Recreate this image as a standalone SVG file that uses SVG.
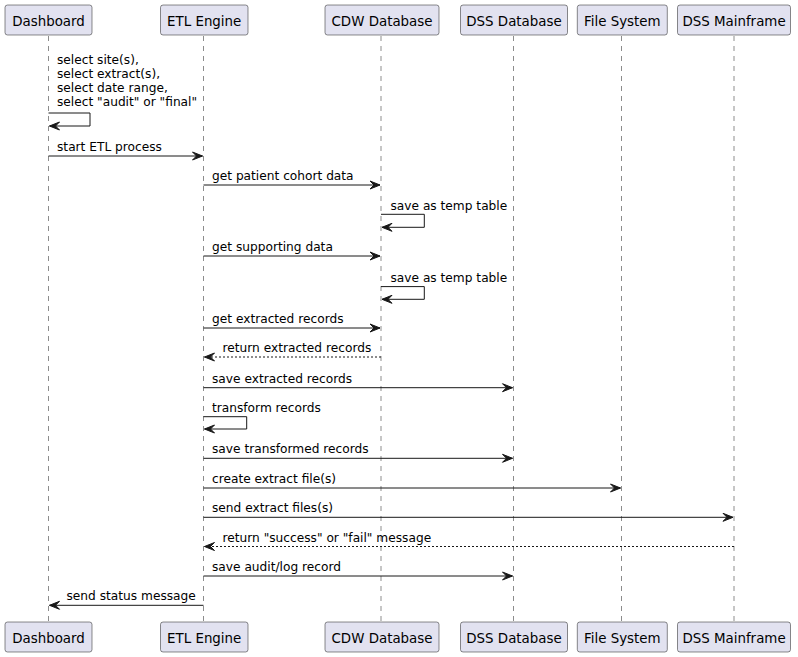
<svg xmlns="http://www.w3.org/2000/svg" width="798" height="657" viewBox="0 0 798 657">
<style>
.bg{fill:#FFFFFF}
.box{fill:#E2E2F0;stroke:#181818;stroke-width:0.5}
.title{font-family:"DejaVu Sans",Verdana,sans-serif;font-size:13.4px;fill:#000000;text-anchor:middle}
.life{stroke:#181818;stroke-width:0.5;stroke-dasharray:5,5;fill:none}
.msg{stroke:#181818;stroke-width:1;fill:none}
.dash{stroke-dasharray:2,2}
.lbl{font-family:"DejaVu Sans",Verdana,sans-serif;font-size:12.2px;fill:#000000}
.ah{fill:#181818;stroke:#181818;stroke-width:1}
</style>
<rect class="bg" x="0" y="0" width="798" height="657"/>
<g id="lifelines">
<line class="life" x1="48.5" y1="36" x2="48.5" y2="622"/>
<line class="life" x1="203.5" y1="36" x2="203.5" y2="622"/>
<line class="life" x1="381" y1="36" x2="381" y2="622"/>
<line class="life" x1="513.5" y1="36" x2="513.5" y2="622"/>
<line class="life" x1="621.5" y1="36" x2="621.5" y2="622"/>
<line class="life" x1="734" y1="36" x2="734" y2="622"/>
</g>
<g id="dashboard">
<rect class="box" x="5" y="5" width="87" height="30" rx="2.5"/>
<text class="title" x="48.5" y="25.5">Dashboard</text>
<rect class="box" x="5" y="622" width="87" height="30" rx="2.5"/>
<text class="title" x="48.5" y="642.5">Dashboard</text>
</g>
<g id="etl-engine">
<rect class="box" x="160.5" y="5" width="87.5" height="30" rx="2.5"/>
<text class="title" x="204.2" y="25.5">ETL Engine</text>
<rect class="box" x="160.5" y="622" width="87.5" height="30" rx="2.5"/>
<text class="title" x="204.2" y="642.5">ETL Engine</text>
</g>
<g id="cdw-database">
<rect class="box" x="325" y="5" width="114" height="30" rx="2.5"/>
<text class="title" x="382" y="25.5">CDW Database</text>
<rect class="box" x="325" y="622" width="114" height="30" rx="2.5"/>
<text class="title" x="382" y="642.5">CDW Database</text>
</g>
<g id="dss-database">
<rect class="box" x="460.5" y="5" width="107" height="30" rx="2.5"/>
<text class="title" x="514" y="25.5">DSS Database</text>
<rect class="box" x="460.5" y="622" width="107" height="30" rx="2.5"/>
<text class="title" x="514" y="642.5">DSS Database</text>
</g>
<g id="file-system">
<rect class="box" x="577.3" y="5" width="90" height="30" rx="2.5"/>
<text class="title" x="622.3" y="25.5">File System</text>
<rect class="box" x="577.3" y="622" width="90" height="30" rx="2.5"/>
<text class="title" x="622.3" y="642.5">File System</text>
</g>
<g id="dss-mainframe">
<rect class="box" x="677.5" y="5" width="113" height="30" rx="2.5"/>
<text class="title" x="734" y="25.5">DSS Mainframe</text>
<rect class="box" x="677.5" y="622" width="113" height="30" rx="2.5"/>
<text class="title" x="734" y="642.5">DSS Mainframe</text>
</g>
<g id="connectors">
<!-- 1 self Dashboard -->
<polyline class="msg" points="48.5,113 90,113 90,126 49.5,126"/>
<polygon class="ah" points="59.5,122 49.5,126 59.5,130 55.5,126"/>
<text class="lbl" x="57" y="63.5">select site(s),</text>
<text class="lbl" x="57" y="77.5">select extract(s),</text>
<text class="lbl" x="57" y="91.5">select date range,</text>
<text class="lbl" x="57" y="105.5">select "audit" or "final"</text>
<!-- 2 -->
<line class="msg" x1="48.5" y1="156" x2="202.5" y2="156"/>
<polygon class="ah" points="192.5,152 202.5,156 192.5,160 196.5,156"/>
<text class="lbl" x="57" y="151">start ETL process</text>
<!-- 3 -->
<line class="msg" x1="203.5" y1="185" x2="380" y2="185"/>
<polygon class="ah" points="370,181 380,185 370,189 374,185"/>
<text class="lbl" x="212" y="180">get patient cohort data</text>
<!-- 4 self CDW -->
<polyline class="msg" points="381,214.3 424.3,214.3 424.3,227.3 382,227.3"/>
<polygon class="ah" points="392,223.3 382,227.3 392,231.3 388,227.3"/>
<text class="lbl" x="390.5" y="209.5">save as temp table</text>
<!-- 5 -->
<line class="msg" x1="203.5" y1="256" x2="380" y2="256"/>
<polygon class="ah" points="370,252 380,256 370,260 374,256"/>
<text class="lbl" x="212" y="251">get supporting data</text>
<!-- 6 self CDW -->
<polyline class="msg" points="381,286.6 424.3,286.6 424.3,299.3 382,299.3"/>
<polygon class="ah" points="392,295.3 382,299.3 392,303.3 388,299.3"/>
<text class="lbl" x="390.5" y="281.8">save as temp table</text>
<!-- 7 -->
<line class="msg" x1="203.5" y1="328" x2="380" y2="328"/>
<polygon class="ah" points="370,324 380,328 370,332 374,328"/>
<text class="lbl" x="212" y="323">get extracted records</text>
<!-- 8 return dashed -->
<line class="msg dash" x1="381" y1="357" x2="204.5" y2="357"/>
<polygon class="ah" points="214.5,353 204.5,357 214.5,361 210.5,357"/>
<text class="lbl" x="222.5" y="352">return extracted records</text>
<!-- 9 -->
<line class="msg" x1="203.5" y1="387.7" x2="512.5" y2="387.7"/>
<polygon class="ah" points="502.5,383.7 512.5,387.7 502.5,391.7 506.5,387.7"/>
<text class="lbl" x="212" y="382.7">save extracted records</text>
<!-- 10 self ETL -->
<polyline class="msg" points="203.5,416.7 246.7,416.7 246.7,429 204.5,429"/>
<polygon class="ah" points="214.5,425 204.5,429 214.5,433 210.5,429"/>
<text class="lbl" x="212" y="412">transform records</text>
<!-- 11 -->
<line class="msg" x1="203.5" y1="458.3" x2="512.5" y2="458.3"/>
<polygon class="ah" points="502.5,454.3 512.5,458.3 502.5,462.3 506.5,458.3"/>
<text class="lbl" x="212" y="453.3">save transformed records</text>
<!-- 12 -->
<line class="msg" x1="203.5" y1="488" x2="620.5" y2="488"/>
<polygon class="ah" points="610.5,484 620.5,488 610.5,492 614.5,488"/>
<text class="lbl" x="212" y="483">create extract file(s)</text>
<!-- 13 -->
<line class="msg" x1="203.5" y1="517.3" x2="733" y2="517.3"/>
<polygon class="ah" points="723,513.3 733,517.3 723,521.3 727,517.3"/>
<text class="lbl" x="212" y="512.3">send extract files(s)</text>
<!-- 14 return dashed -->
<line class="msg dash" x1="734" y1="546.5" x2="204.5" y2="546.5"/>
<polygon class="ah" points="214.5,542.5 204.5,546.5 214.5,550.5 210.5,546.5"/>
<text class="lbl" x="222.5" y="541.5">return "success" or "fail" message</text>
<!-- 15 -->
<line class="msg" x1="203.5" y1="576" x2="512.5" y2="576"/>
<polygon class="ah" points="502.5,572 512.5,576 502.5,580 506.5,576"/>
<text class="lbl" x="212" y="571">save audit/log record</text>
<!-- 16 -->
<line class="msg" x1="203.5" y1="605.3" x2="49.5" y2="605.3"/>
<polygon class="ah" points="59.5,601.3 49.5,605.3 59.5,609.3 55.5,605.3"/>
<text class="lbl" x="66.5" y="600.3">send status message</text>
</g>
</svg>
